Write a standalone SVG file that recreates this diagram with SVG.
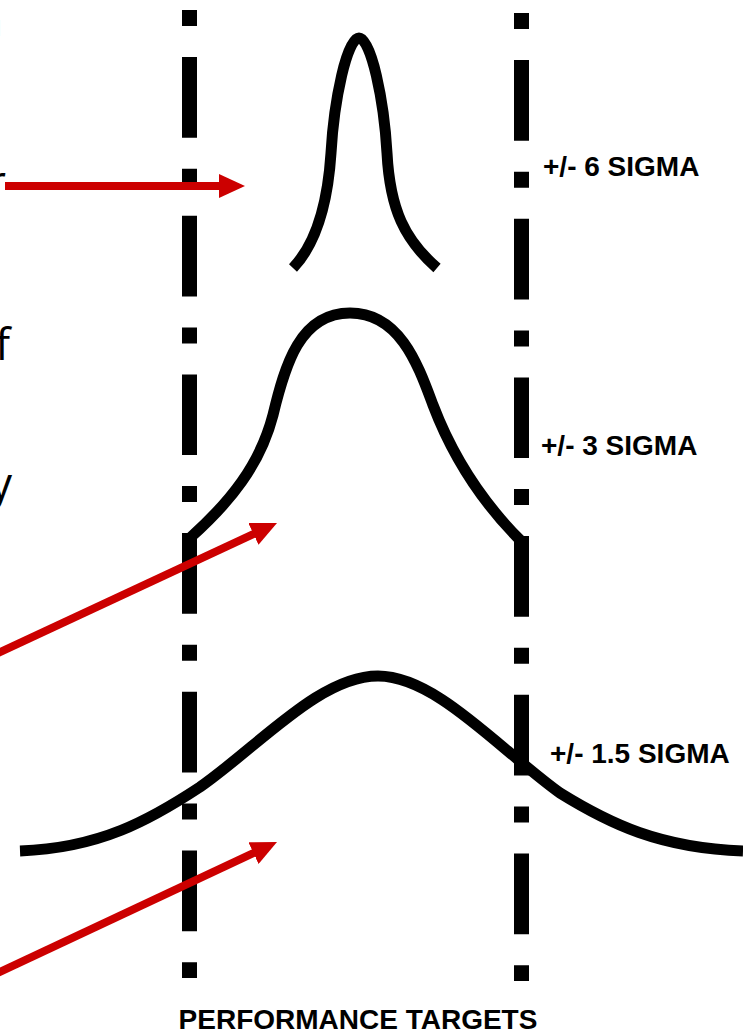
<svg xmlns="http://www.w3.org/2000/svg" width="743" height="1031" viewBox="0 0 743 1031">
<style>
.limit{stroke:#000;stroke-width:15;fill:none;stroke-dasharray:16 31 80.7 31}
.curve{stroke:#000;stroke-width:11;fill:none;stroke-linecap:butt;stroke-linejoin:round}
.arrow{stroke:#cc0000;stroke-width:8;fill:none;marker-end:url(#head)}
.lbl{font-family:"Liberation Sans",Arial,sans-serif;font-weight:bold;font-size:28px;fill:#000}
.frag{font-family:"Open Sans","Liberation Sans",sans-serif;font-size:44px;fill:#000}
</style>
<defs>
<marker id="head" viewBox="0 0 26 24" markerWidth="26" markerHeight="24" refX="1" refY="12" orient="auto" markerUnits="userSpaceOnUse">
<path d="M0,0 L26,12 L0,24 Z" fill="#cc0000"/>
</marker>
</defs>
<rect width="743" height="1031" fill="#fff"/>
<g id="fragments">
<text class="frag" x="3" y="36" text-anchor="end" fill="#666">n</text>
<text class="frag" x="6" y="197" text-anchor="end">r</text>
<text class="frag" x="10" y="360" text-anchor="end">f</text>
<text class="frag" x="12" y="499" text-anchor="end">y</text>
</g>
<g id="limits">
<line class="limit" x1="189.5" y1="10" x2="189.5" y2="978"/>
<line class="limit" x1="521.5" y1="13" x2="521.5" y2="981"/>
</g>
<g id="sigma6">
<path class="curve" d="M293,268 C312,248 327,215 331,153 C334,100 347,38 359,38 C371,38 384,100 387,153 C390,210 405,240 437,268"/>
<text class="lbl" x="543" y="176">+/- 6 SIGMA</text>
</g>
<g id="sigma3">
<path class="curve" d="M191,537 C230,502 260,465 273,415 C285,365 300,313 350,313 C400,313 418,365 433,405 C452,455 480,500 521,541"/>
<text class="lbl" x="541" y="455">+/- 3 SIGMA</text>
</g>
<g id="sigma15">
<path class="curve" d="M20,851 C100,848 150,820 200,787 C260,745 320,676 378,676 C436,676 500,750 560,793 C610,824 660,848 743,851"/>
<text class="lbl" x="550" y="763">+/- 1.5 SIGMA</text>
</g>
<g id="connectors">
<line class="arrow" x1="5" y1="186" x2="220" y2="186"/>
<line class="arrow" x1="-5" y1="654.4" x2="254.35" y2="533.55"/>
<line class="arrow" x1="-5" y1="974.3" x2="254.37" y2="852.62"/>
</g>
<g id="axis">
<text class="lbl" x="358" y="1029" text-anchor="middle">PERFORMANCE TARGETS</text>
</g>
</svg>
